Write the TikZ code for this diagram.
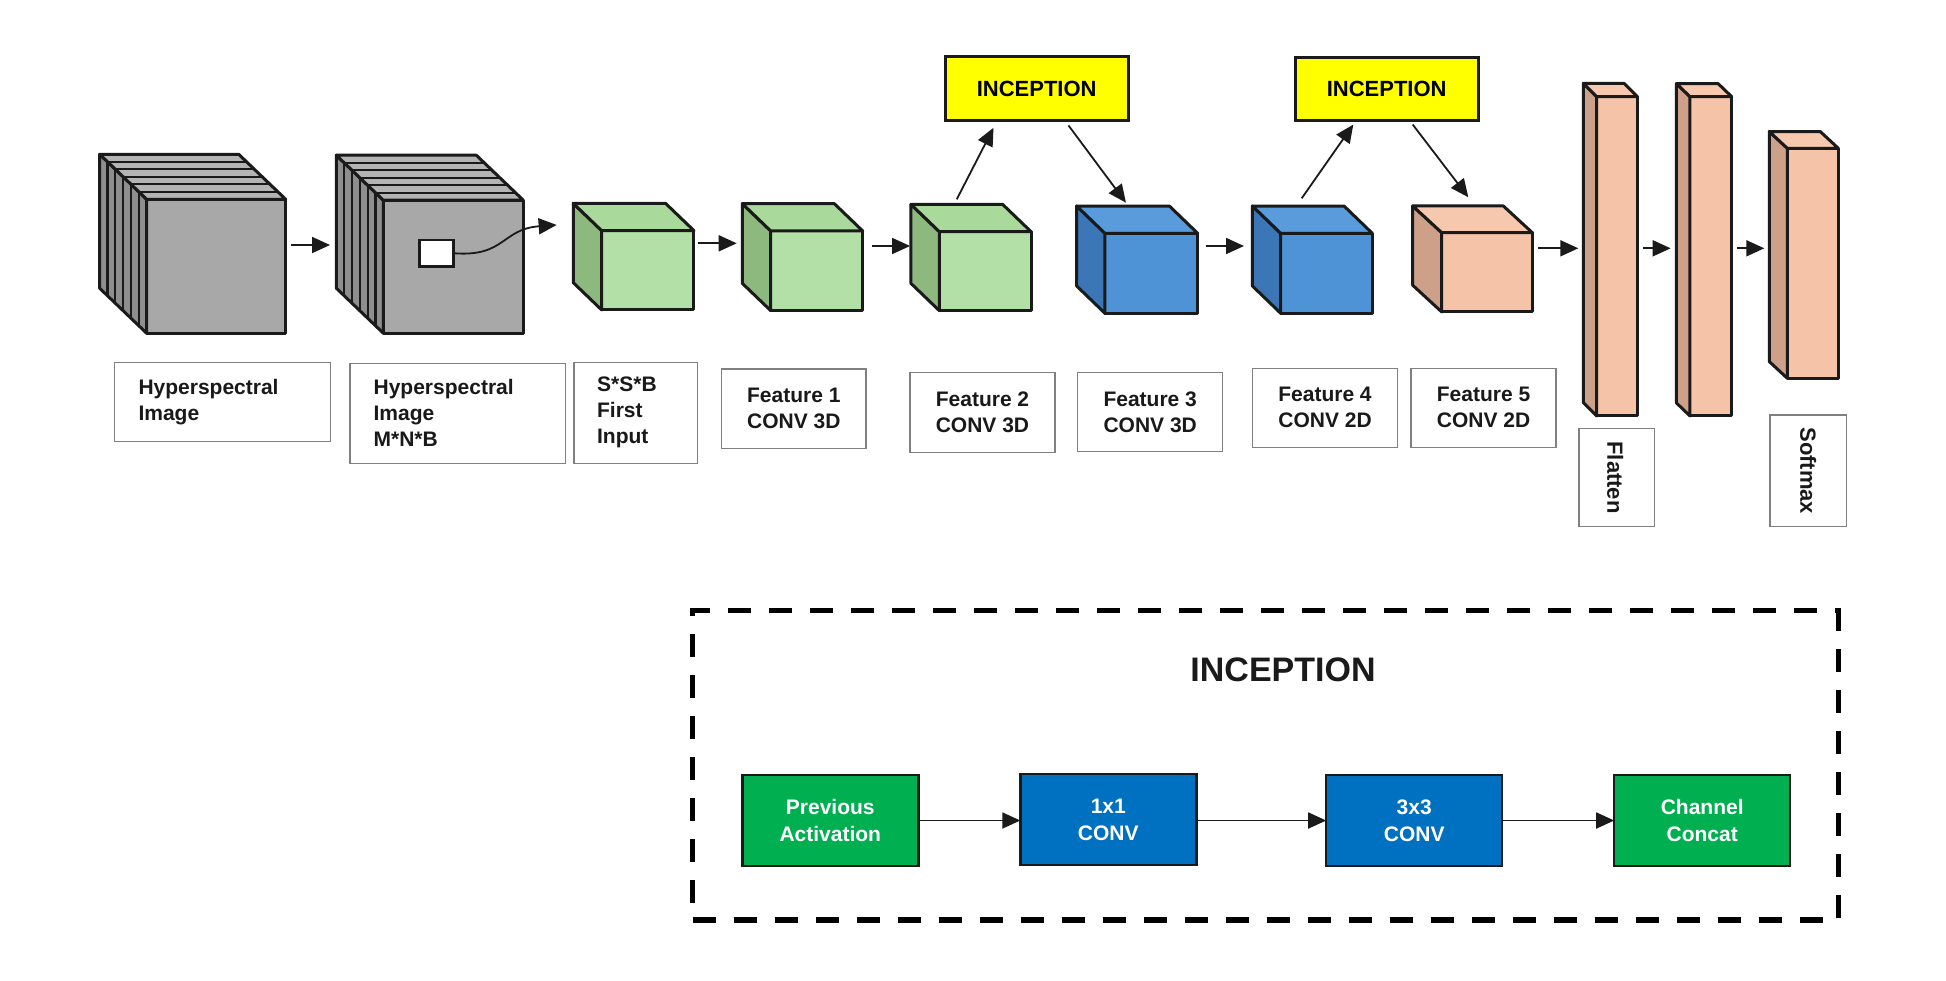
\documentclass[tikz,border=0pt]{standalone}
\usepackage{fontspec}
\setmainfont{Liberation Sans}
\usetikzlibrary{arrows.meta}
\definecolor{grayF}{HTML}{A8A8A8}
\definecolor{grayS}{HTML}{8E8E8E}
\definecolor{grayT}{HTML}{B4B4B4}
\definecolor{greenF}{HTML}{B3E0A6}
\definecolor{greenS}{HTML}{8DB87E}
\definecolor{greenT}{HTML}{A9D99B}
\definecolor{blueF}{HTML}{4F93D7}
\definecolor{blueS}{HTML}{3B77B7}
\definecolor{blueT}{HTML}{5A9BDB}
\definecolor{peachF}{HTML}{F5C4A8}
\definecolor{peachS}{HTML}{CDA08A}
\definecolor{peachT}{HTML}{F6C8AD}
\definecolor{incY}{HTML}{FFFF00}
\definecolor{bgreen}{HTML}{00B050}
\definecolor{bblue}{HTML}{0070C0}
\definecolor{ink}{HTML}{1A1A1A}
\tikzset{
  face/.style={draw=ink, line width=3pt, inner sep=0pt, outer sep=0pt, line join=round},
  edge/.style={draw=ink, line width=3pt, line join=round},
  slice/.style={draw=ink, line width=2.2pt},
  lbl/.style={draw=black!50, line width=1.5pt, inner sep=0pt, outer sep=0pt},
  txt/.style={font=\fontsize{21}{26}\selectfont\bfseries, text=black!90, inner sep=0pt, align=left},
  ctxt/.style={lbl, font=\fontsize{21}{26}\selectfont\bfseries, text=black!90, align=center},
  arr/.style={-{Triangle[length=18pt,width=16pt]}, line width=1.8pt, draw=ink},
  incbox/.style={draw=ink, line width=3pt, fill=incY, inner sep=0pt, outer sep=0pt,
     font=\fontsize{22}{26}\selectfont\bfseries, minimum width=183, minimum height=63.5},
  blk/.style={draw=ink, line width=2.5pt, inner sep=0pt, outer sep=0pt, text=white,
     font=\fontsize{21}{27}\selectfont\bfseries, align=center, minimum width=176, minimum height=91},
  frame/.style={draw=black, line width=5.5pt, dash pattern=on 23pt off 18pt, inner sep=0pt}
}
% name, cx, cy, w, h, dx, dy, colour set
\newcommand\mkcube[8]{%
  \node[face, fill=#8F, minimum width=#4, minimum height=#5] (#1) at (#2,#3) {};
  \draw[edge, fill=#8S] (#1.north west) -- ++(-#6,-#7) -- ([shift={(-#6,-#7)}]#1.south west) -- (#1.south west) -- cycle;
  \draw[edge, fill=#8T] (#1.north west) -- ++(-#6,-#7) -- ([shift={(-#6,-#7)}]#1.north east) -- (#1.north east) -- cycle;
}
\newcommand\mkslices[3]{%
  \foreach \t in {1,...,5} {
    \draw[slice] ([shift={({-\t*#2/6},{-\t*#3/6})}]#1.north west) -- ([shift={({-\t*#2/6},{-\t*#3/6})}]#1.south west);
    \draw[slice] ([shift={({-\t*#2/6},{-\t*#3/6})}]#1.north west) -- ([shift={({-\t*#2/6},{-\t*#3/6})}]#1.north east);
  }
}
\begin{document}
\begin{tikzpicture}[x=1pt, y=-1pt]
\path[use as bounding box, fill=white] (0,0) rectangle (1946,980);

% ---------- gray hyperspectral cubes ----------
\mkcube{c1}{216.2}{266.3}{139}{134}{47}{45}{gray}
\mkslices{c1}{47}{45}
\mkcube{c2}{453.3}{266.7}{140}{133}{47}{45}{gray}
\mkslices{c2}{47}{45}
\node[draw=ink, line width=2.5pt, fill=white, inner sep=0pt, minimum width=34, minimum height=26.7] (win) at (436.3,253.3) {};

% ---------- feature cubes ----------
\mkcube{g1}{647.8}{270.3}{92.3}{79.3}{28.4}{27.3}{green}
\mkcube{g2}{816.7}{270.8}{92}{79.7}{28.4}{27.3}{green}
\mkcube{g3}{985.2}{271.2}{91.7}{79}{28.4}{27.3}{green}
\mkcube{b1}{1151.3}{273.3}{92.7}{80}{28.3}{27.3}{blue}
\mkcube{b2}{1326.5}{273.3}{91.6}{80}{28.3}{27.3}{blue}
\mkcube{p1}{1487}{272.3}{90.6}{79.3}{29}{26.7}{peach}
\mkcube{t1}{1617}{256.3}{40.6}{319.3}{13.3}{13.3}{peach}
\mkcube{t2}{1710.8}{256.3}{41.7}{319.3}{13.5}{13}{peach}
\mkcube{t3}{1812.8}{263.3}{51}{230}{18}{16.7}{peach}

% ---------- inception boxes ----------
\node[incbox] (inc1) at (1036.7,88.7) {INCEPTION};
\node[incbox] (inc2) at (1386.7,88.8) {INCEPTION};

% ---------- arrows ----------
\draw[arr] ([shift={(5,-21.3)}]c1.east) -- ([shift={(-53.3,-21.7)}]c2.west);
\draw[arr] (win.east) .. controls (505,257) and (502,229) .. ([shift={(-45,-5.7)}]g1.north west);
\draw[arr] ([shift={(4.3,-27)}]g1.east) -- ([shift={(-34,-27.5)}]g2.west);
\draw[arr] ([shift={(9,-24.8)}]g2.east) -- ([shift={(-29.3,-25.2)}]g3.west);
\draw[arr] ([shift={(17.4,-32.4)}]g3.north west) -- ([shift={(-43.2,7.3)}]inc1.south);
\draw[arr] ([shift={(31.8,5)}]inc1.south) -- ([shift={(21,-30.6)}]b1.north west);
\draw[arr] ([shift={(8,-27.3)}]b1.east) -- ([shift={(-36.7,-27.3)}]b2.west);
\draw[arr] ([shift={(21,-35)}]b2.north west) -- ([shift={(-33.4,4)}]inc2.south);
\draw[arr] ([shift={(26,4)}]inc2.south) -- ([shift={(26.6,-35.4)}]p1.north west);
\draw[arr] ([shift={(6,-24)}]p1.east) -- ([shift={(-18.4,-8)}]t1.west);
\draw[arr] ([shift={(6,-8)}]t1.east) -- ([shift={(-19.3,-8)}]t2.west);
\draw[arr] ([shift={(5.6,-8)}]t2.east) -- ([shift={(-23,-15)}]t3.west);

% ---------- labels ----------
\node[lbl, minimum width=216.4, minimum height=79.4] (l1) at (222.5,402) {};
\node[txt, anchor=west] (l1t) at ([xshift=24]l1.west) {Hyperspectral\\Image};
\node[lbl, minimum width=215.7, minimum height=100] (l2) at (457.8,413.3) {};
\node[txt, anchor=west] (l2t) at ([xshift=23.5]l2.west) {Hyperspectral\\Image\\M*N*B};
\node[lbl, minimum width=123.7, minimum height=101] (l3) at (635.8,412.8) {};
\node[txt, anchor=west] (l3t) at ([xshift=23]l3.west) {S*S*B\\First\\Input};
\node[ctxt, minimum width=144.3, minimum height=79.3] (f1) at (793.8,408.7) {Feature 1\\CONV 3D};
\node[ctxt, minimum width=145, minimum height=79.6] (f2) at (982.5,412.5) {Feature 2\\CONV 3D};
\node[ctxt, minimum width=145, minimum height=79] (f3) at (1150.2,412.2) {Feature 3\\CONV 3D};
\node[ctxt, minimum width=144.6, minimum height=79] (f4) at (1325,407.8) {Feature 4\\CONV 2D};
\node[ctxt, minimum width=145, minimum height=79] (f5) at (1483.5,407.8) {Feature 5\\CONV 2D};
\node[lbl, minimum width=75.3, minimum height=98.4] (fl) at (1616.7,477.5) {};
\node[txt, rotate=-90, font=\fontsize{22}{26}\selectfont\bfseries] (flt) at ([xshift=-1.5]fl.center) {Flatten};
\node[lbl, minimum width=76.7, minimum height=111.7] (sm) at (1808.3,470.8) {};
\node[txt, rotate=-90, font=\fontsize{22}{26}\selectfont\bfseries] (smt) at (sm.center) {Softmax};

% ---------- inception detail ----------
\node[frame, minimum width=1145.6, minimum height=309.3] (frm) at (1265.5,765.3) {};
\node[font=\fontsize{34}{36}\selectfont\bfseries, text=ink, inner sep=0pt] (title) at (1283,670) {INCEPTION};
\node[blk, fill=bgreen] (pa) at (830.3,820.5) {Previous\\Activation};
\node[blk, fill=bblue] (cv1) at (1108.3,819.7) {1x1\\CONV};
\node[blk, fill=bblue] (cv3) at (1414.2,820.5) {3x3\\CONV};
\node[blk, fill=bgreen] (cc) at (1702.2,820.5) {Channel\\Concat};
\draw[arr] (pa.east) -- (pa.east -| cv1.west);
\draw[arr] (cv1.east |- pa.east) -- (pa.east -| cv3.west);
\draw[arr] (cv3.east) -- (cv3.east -| cc.west);
\end{tikzpicture}
\end{document}
